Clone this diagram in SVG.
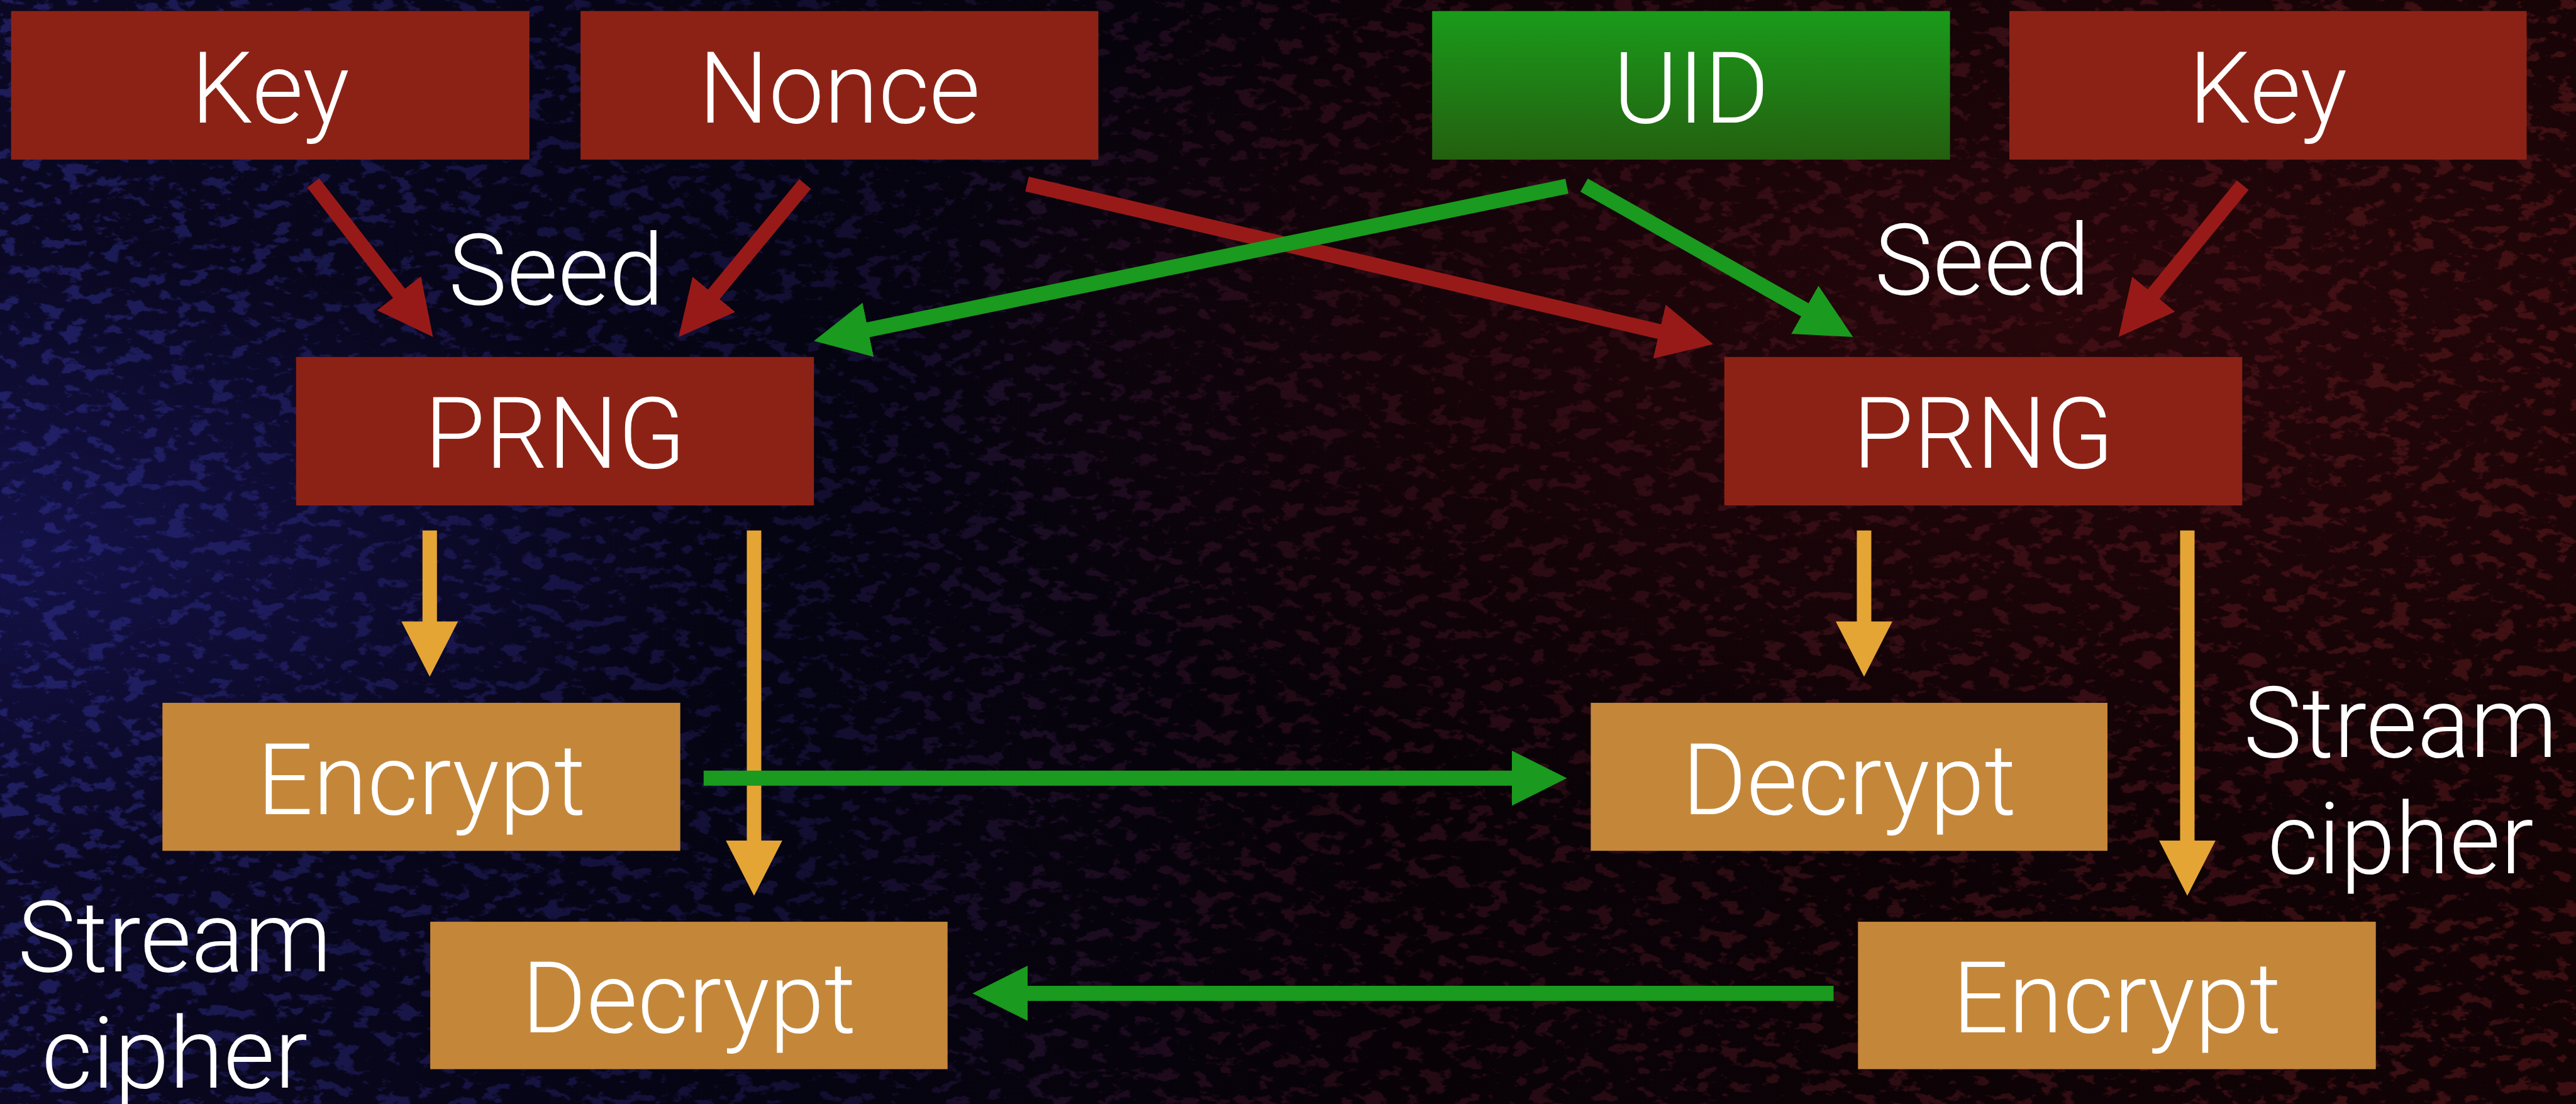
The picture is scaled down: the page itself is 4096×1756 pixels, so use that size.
<svg xmlns="http://www.w3.org/2000/svg" width="4096" height="1756" viewBox="0 0 4096 1756">
  <defs>
    <style>
      .lbl { font-family: Roboto, "Liberation Sans", sans-serif; font-weight: 300; font-size: 157px; fill: #ffffff; text-anchor: middle; }
      .red-box { fill: #8c2216; }
      .gold-box { fill: #c4873a; }
      .red-edge { stroke: #981a18; stroke-width: 24; fill: none; }
      .green-edge { stroke: #1a9a1e; stroke-width: 24; fill: none; }
      .gold-edge { stroke: #e5a535; stroke-width: 23; fill: none; }
    </style>
    <linearGradient id="uidFill" x1="0" y1="0" x2="0" y2="1">
      <stop offset="0" stop-color="#1a9b1a"/>
      <stop offset="1" stop-color="#245f10"/>
    </linearGradient>
    <linearGradient id="baseTone" x1="0" y1="0" x2="1" y2="0">
      <stop offset="0" stop-color="#0a0822"/>
      <stop offset="0.3" stop-color="#050412"/>
      <stop offset="0.55" stop-color="#080207"/>
      <stop offset="1" stop-color="#120305"/>
    </linearGradient>
    <radialGradient id="redGlow" cx="0.8" cy="0.3" r="0.45">
      <stop offset="0" stop-color="#3a0a0e" stop-opacity="0.55"/>
      <stop offset="1" stop-color="#3a0a0e" stop-opacity="0"/>
    </radialGradient>
    <radialGradient id="blueGlow" cx="0.0" cy="0.5" r="0.28">
      <stop offset="0" stop-color="#1c1a66" stop-opacity="0.55"/>
      <stop offset="1" stop-color="#1c1a66" stop-opacity="0"/>
    </radialGradient>
    <linearGradient id="grungeTint" x1="0" y1="0" x2="1" y2="0">
      <stop offset="0" stop-color="#3c3cb0"/>
      <stop offset="0.3" stop-color="#262066"/>
      <stop offset="0.5" stop-color="#4a1628"/>
      <stop offset="1" stop-color="#7a2228"/>
    </linearGradient>
    <filter id="grunge" x="0" y="0" width="1" height="1" filterUnits="objectBoundingBox">
      <feTurbulence type="fractalNoise" baseFrequency="0.03 0.05" numOctaves="4" seed="7" result="n"/>
      <feColorMatrix in="n" type="matrix" values="0 0 0 0 0  0 0 0 0 0  0 0 0 0 0  10 0 0 0 -5.6" result="m"/>
      <feComposite in="SourceGraphic" in2="m" operator="in"/>
    </filter>
    <marker id="headRed" markerUnits="userSpaceOnUse" markerWidth="88" markerHeight="88" viewBox="0 0 88 88" refX="2" refY="44" orient="auto">
      <path d="M0,0 L88,44 L0,88 z" fill="#981a18"/>
    </marker>
    <marker id="headGreen" markerUnits="userSpaceOnUse" markerWidth="88" markerHeight="88" viewBox="0 0 88 88" refX="2" refY="44" orient="auto">
      <path d="M0,0 L88,44 L0,88 z" fill="#1a9a1e"/>
    </marker>
    <marker id="headGold" markerUnits="userSpaceOnUse" markerWidth="88" markerHeight="90" viewBox="0 0 88 90" refX="2" refY="45" orient="auto">
      <path d="M0,0 L88,45 L0,90 z" fill="#e5a535"/>
    </marker>
  </defs>

  <!-- textured backdrop -->
  <g id="backdrop">
    <rect x="0" y="0" width="4096" height="1756" fill="url(#baseTone)"/>
    <rect x="0" y="0" width="4096" height="1756" fill="url(#redGlow)"/>
    <rect x="0" y="0" width="4096" height="1756" fill="url(#blueGlow)"/>
    <rect x="0" y="0" width="4096" height="1756" fill="url(#grungeTint)" filter="url(#grunge)" opacity="0.4"/>
  </g>

  <!-- connectors -->
  <g id="connectors">
    <line class="red-edge" x1="498" y1="291" x2="635.7" y2="468.1" marker-end="url(#headRed)"/>
    <line class="red-edge" x1="1280.1" y1="292.7" x2="1133.9" y2="469.7" marker-end="url(#headRed)"/>
    <line class="red-edge" x1="1633" y1="292.7" x2="2640.5" y2="527.9" marker-end="url(#headRed)"/>
    <line class="red-edge" x1="3566.2" y1="294.5" x2="3423.1" y2="469.4" marker-end="url(#headRed)"/>
    <line class="green-edge" x1="2491.5" y1="296.2" x2="1378.4" y2="524.9" marker-end="url(#headGreen)"/>
    <line class="green-edge" x1="2518.8" y1="294.5" x2="2871.5" y2="493.7" marker-end="url(#headGreen)"/>
    <line class="gold-edge" x1="683.3" y1="843.7" x2="683.3" y2="990.4" marker-end="url(#headGold)"/>
    <line class="gold-edge" x1="1199" y1="843.7" x2="1199" y2="1338.7" marker-end="url(#headGold)"/>
    <line class="gold-edge" x1="2964" y1="843.7" x2="2964" y2="990.4" marker-end="url(#headGold)"/>
    <line class="gold-edge" x1="3478" y1="843.7" x2="3478" y2="1338.7" marker-end="url(#headGold)"/>
    <line class="green-edge" x1="1118.8" y1="1237.8" x2="2405.5" y2="1237.8" marker-end="url(#headGreen)"/>
    <line class="green-edge" x1="2915.5" y1="1579.9" x2="1632.4" y2="1579.9" marker-end="url(#headGreen)"/>
  </g>

  <!-- nodes -->
  <g id="key-left">
    <rect class="red-box" x="17.6" y="17.6" width="824.3" height="236.3"/>
    <text class="lbl" x="429.8" y="194.8">Key</text>
  </g>
  <g id="nonce">
    <rect class="red-box" x="923.1" y="17.6" width="823.4" height="236.3"/>
    <text class="lbl" x="1334.8" y="194.8">Nonce</text>
  </g>
  <g id="uid">
    <rect x="2277.2" y="17.6" width="823.4" height="236.3" fill="url(#uidFill)"/>
    <text class="lbl" x="2688.9" y="194.8">UID</text>
  </g>
  <g id="key-right">
    <rect class="red-box" x="3195" y="17.6" width="822.5" height="236.3"/>
    <text class="lbl" x="3606.3" y="194.8">Key</text>
  </g>
  <g id="prng-left">
    <rect class="red-box" x="470.8" y="567.8" width="823.4" height="236.2"/>
    <text class="lbl" x="882.5" y="744">PRNG</text>
  </g>
  <g id="prng-right">
    <rect class="red-box" x="2741.8" y="567.8" width="823.5" height="236.2"/>
    <text class="lbl" x="3153.6" y="744">PRNG</text>
  </g>
  <g id="encrypt-left">
    <rect class="gold-box" x="258.3" y="1117.9" width="823.4" height="235.4"/>
    <text class="lbl" x="670" y="1295">Encrypt</text>
  </g>
  <g id="decrypt-right">
    <rect class="gold-box" x="2529.4" y="1117.9" width="821.6" height="235.4"/>
    <text class="lbl" x="2940.2" y="1295">Decrypt</text>
  </g>
  <g id="decrypt-left">
    <rect class="gold-box" x="684.1" y="1466.1" width="822.6" height="234.5"/>
    <text class="lbl" x="1095.4" y="1641.6">Decrypt</text>
  </g>
  <g id="encrypt-right">
    <rect class="gold-box" x="2954.3" y="1466.1" width="823.4" height="234.5"/>
    <text class="lbl" x="3366" y="1641.6">Encrypt</text>
  </g>

  <!-- free labels -->
  <g id="labels">
    <text class="lbl" x="884.3" y="484">Seed</text>
    <text class="lbl" x="3151.8" y="468">Seed</text>
    <text class="lbl" x="3817" y="1204">Stream</text>
    <text class="lbl" x="3817" y="1389">cipher</text>
    <text class="lbl" x="277.7" y="1545">Stream</text>
    <text class="lbl" x="277.7" y="1730">cipher</text>
  </g>
</svg>
